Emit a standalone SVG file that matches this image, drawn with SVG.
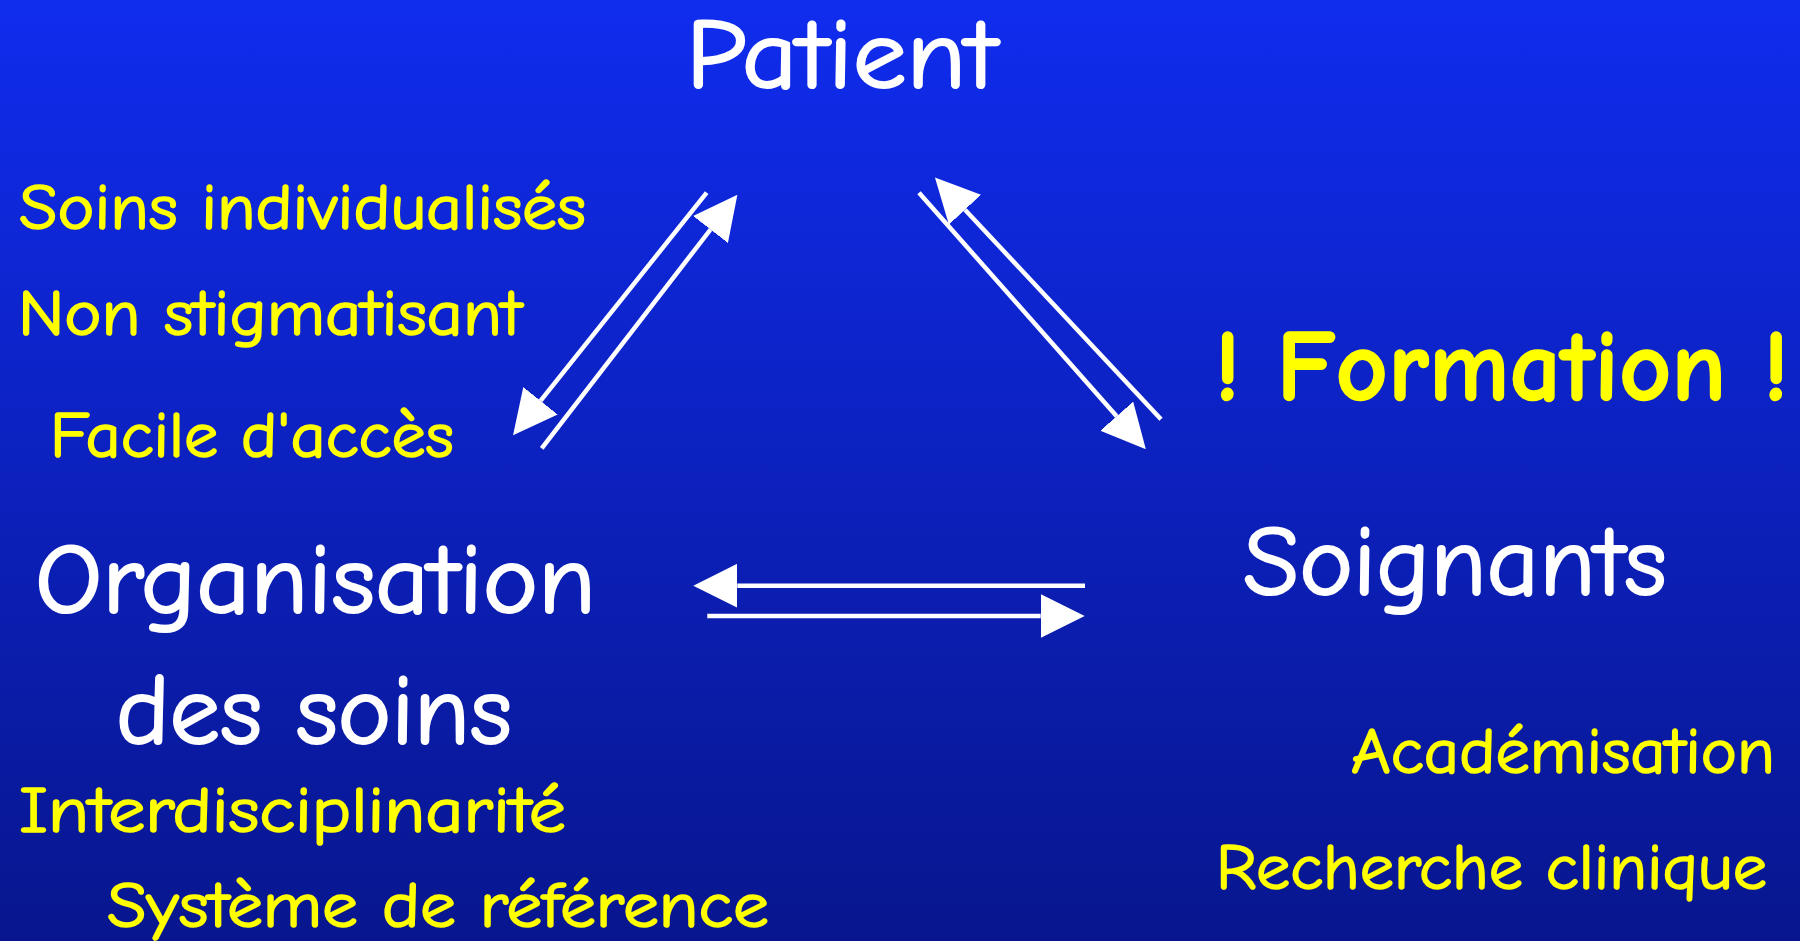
<svg xmlns="http://www.w3.org/2000/svg" width="1800" height="941" viewBox="0 0 1800 941">
  <defs>
    <linearGradient id="bg" x1="0" y1="0" x2="0" y2="1">
      <stop offset="0" stop-color="#102CEE"/>
      <stop offset="1" stop-color="#08168E"/>
    </linearGradient>
    <marker id="head" viewBox="0 0 44 44" markerWidth="44" markerHeight="44" markerUnits="userSpaceOnUse" refX="0" refY="22" orient="auto">
      <path d="M0,0 L44,22 L0,44 z" fill="#FFFFFF"/>
    </marker>
  </defs>
  <style>
    text { font-family: "Comic Sans MS", "Comic Neue", "Open Sans", "Liberation Sans", sans-serif; stroke-linejoin: round; }
    .big { font-size: 100px; fill: #FFFFFF; stroke: #FFFFFF; stroke-width: 2.2; }
    .small { font-size: 64px; fill: #FFFF00; stroke: #FFFF00; stroke-width: 1.6; }
    .bold { font-size: 102px; font-weight: bold; fill: #FFFF00; stroke: #FFFF00; stroke-width: 1.5; }
    .conn line { stroke: #FFFFFF; stroke-width: 4.5; fill: none; marker-end: url(#head); }
  </style>
  <rect x="0" y="0" width="1800" height="941" fill="url(#bg)"/>

  <g id="node-patient">
    <text class="big" x="686" y="88" textLength="311" lengthAdjust="spacingAndGlyphs">Patient</text>
  </g>

  <g id="node-organisation">
    <text class="big" x="35" y="613" textLength="561" lengthAdjust="spacingAndGlyphs">Organisation</text>
    <text class="big" x="116" y="744" textLength="396" lengthAdjust="spacingAndGlyphs">des soins</text>
  </g>

  <g id="node-soignants">
    <text class="big" x="1243" y="595" textLength="424" lengthAdjust="spacingAndGlyphs">Soignants</text>
  </g>

  <g id="label-patient-org">
    <text class="small" x="19" y="229" textLength="567" lengthAdjust="spacingAndGlyphs">Soins individualisés</text>
    <text class="small" x="18" y="335" textLength="504" lengthAdjust="spacingAndGlyphs">Non stigmatisant</text>
    <text class="small" x="50" y="457" textLength="404" lengthAdjust="spacingAndGlyphs">Facile d'accès</text>
  </g>

  <g id="label-organisation">
    <text class="small" x="19" y="832" textLength="547" lengthAdjust="spacingAndGlyphs">Interdisciplinarité</text>
    <text class="small" x="107" y="927" textLength="662" lengthAdjust="spacingAndGlyphs">Système de référence</text>
  </g>

  <g id="label-formation">
    <text class="bold" x="1214" y="400" textLength="575" lengthAdjust="spacingAndGlyphs">! Formation !</text>
  </g>

  <g id="label-soignants">
    <text class="small" x="1351" y="773" textLength="424" lengthAdjust="spacingAndGlyphs">Académisation</text>
    <text class="small" x="1216" y="889" textLength="551" lengthAdjust="spacingAndGlyphs">Recherche clinique</text>
  </g>

  <g id="connectors" class="conn">
    <line x1="706.7" y1="192.7" x2="540.5" y2="400.8"/>
    <line x1="541.7" y1="448.3" x2="710.5" y2="229.5"/>
    <line x1="919" y1="192.7" x2="1116.7" y2="416.2"/>
    <line x1="1161" y1="419.3" x2="965" y2="209.7"/>
    <line x1="1085" y1="585.7" x2="737.3" y2="585.7"/>
    <line x1="707.3" y1="616" x2="1040.7" y2="616"/>
  </g>
</svg>
